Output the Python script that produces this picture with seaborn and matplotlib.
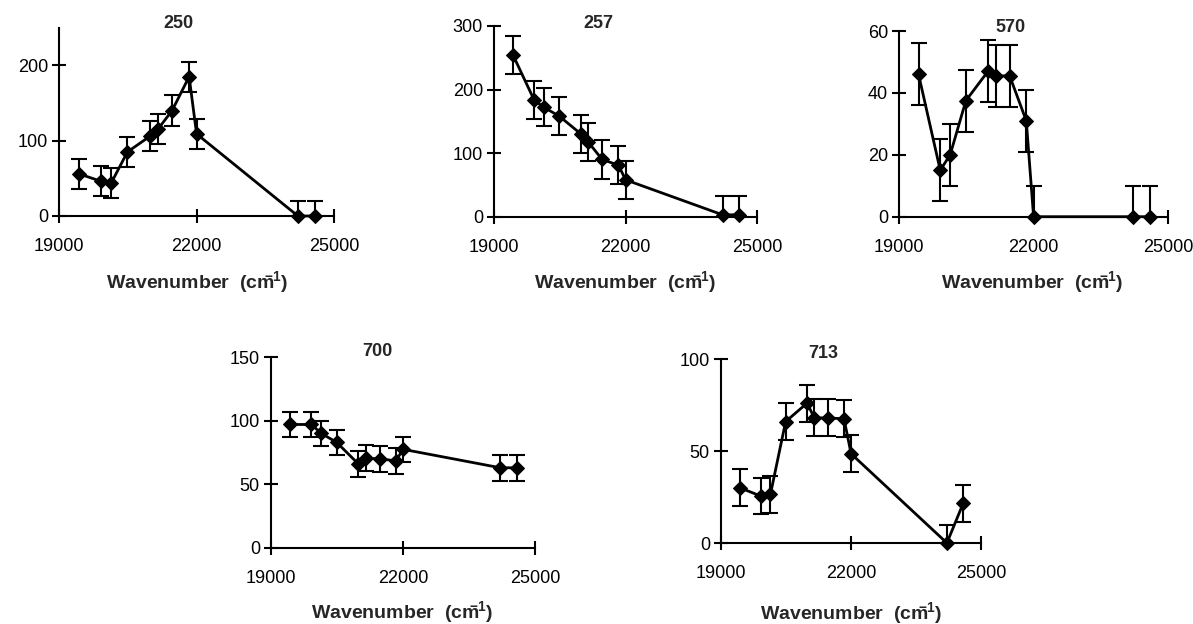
import numpy as np
import matplotlib
matplotlib.use("Agg")
import matplotlib.pyplot as plt
import seaborn as sns
import pandas as pd

# Data
wavenumber = [19436, 19920, 20141, 20492, 20986, 21155, 21468, 21839, 22002, 24213, 24588]

titles = ["250", "257", "570", "700", "713"]
values = {
    "250": [56, 46, 44, 85, 106, 115, 140, 185, 109, 0, 0],
    "257": [254, 183, 172, 158, 130, 117, 90, 81, 58, 3, 3],
    "570": [46, 15, 20, 37.5, 47, 45.5, 45.5, 31, 0, 0, 0],
    "700": [97, 97, 90, 83, 66, 70.5, 70, 68.5, 77.5, 63, 63],
    "713": [30, 25.5, 26.5, 66, 76, 68, 68, 67.5, 48.5, 0, 21.5],
}
errors = {"250": 20, "257": 30, "570": 10, "700": 10, "713": 10}
ylims = {"250": 250, "257": 300, "570": 60, "700": 150, "713": 100}
yticks = {
    "250": [0, 100, 200],
    "257": [0, 100, 200, 300],
    "570": [0, 20, 40, 60],
    "700": [0, 50, 100, 150],
    "713": [0, 50, 100],
}
xticks = [19000, 22000, 25000]
xlabel = r"Wavenumber  (cm$^{\!\!\!\!\!\mathregular{-1}}$)"

W, H = 1193, 624
# axes boxes in pixels: left, right, top, bottom
boxes = {
    "250": (59, 334, 27.7, 216),
    "257": (494, 757, 26, 216.7),
    "570": (899, 1168, 31, 216.7),
    "700": (271, 535, 357, 548),
    "713": (721, 981, 359, 543),
}
title_pos = {"250": (178, 23), "257": (598, 23), "570": (1010, 27),
             "700": (377, 352), "713": (823, 353)}
xlabel_pos = {"250": (197, 282), "257": (625, 282), "570": (1032, 282),
              "700": (402, 612), "713": (851, 613)}

sns.set_style("ticks")
plt.rcParams['font.family'] = ['Liberation Sans', 'DejaVu Sans']
plt.rcParams['mathtext.fontset'] = 'custom'
plt.rcParams['mathtext.rm'] = 'Liberation Sans'
plt.rcParams['mathtext.it'] = 'Liberation Sans'
plt.rcParams['mathtext.bf'] = 'Liberation Sans:bold'

fig = plt.figure(figsize=(W / 100, H / 100), dpi=100)
fig.patch.set_facecolor("white")

for t in titles:
    l, r, tp, b = boxes[t]
    ax = fig.add_axes([l / W, 1 - b / H, (r - l) / W, (b - tp) / H])
    ax.set_facecolor("white")
    df = pd.DataFrame({"x": wavenumber, "y": values[t]})
    ax.errorbar(df["x"], df["y"], yerr=errors[t], fmt="none", ecolor="black",
                elinewidth=1.5, capsize=6, capthick=1.5, zorder=2)
    sns.lineplot(data=df, x="x", y="y", ax=ax, color="black", linewidth=2,
                 marker="D", markersize=7, markeredgecolor="black",
                 markerfacecolor="black", clip_on=False, zorder=3, sort=False)
    ax.set_xlim(19000, 25000)
    ax.set_ylim(0, ylims[t])
    ax.set_xticks(xticks)
    ax.set_xticklabels([str(v) for v in xticks])
    ax.set_yticks(yticks[t])
    ax.set_yticklabels([str(v) for v in yticks[t]])
    for s in ["top", "right"]:
        ax.spines[s].set_visible(False)
    for s in ["left", "bottom"]:
        ax.spines[s].set_linewidth(1.5)
        ax.spines[s].set_color("black")
    ax.tick_params(axis="both", direction="inout", length=10, width=1.5,
                   colors="black", labelsize=13)
    ax.tick_params(axis="x", pad=11)
    ax.tick_params(axis="y", pad=3)
    ax.set_xlabel("")
    ax.set_ylabel("")
    tx, ty = title_pos[t]
    fig.text(tx / W, 1 - ty / H, t, ha="center", va="center",
             fontsize=13, fontweight="bold")
    lx, ly = xlabel_pos[t]
    fig.text(lx / W, 1 - ly / H, xlabel, ha="center", va="center",
             fontsize=14, fontweight="bold")

fig.savefig("out.png", dpi=100, facecolor="white")
